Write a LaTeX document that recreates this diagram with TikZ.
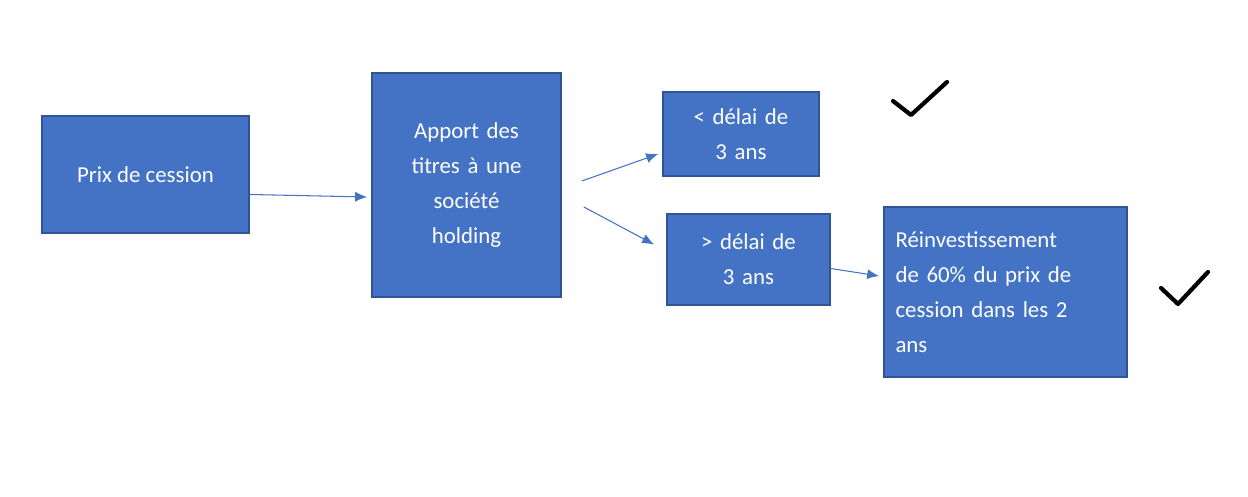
\documentclass[tikz,border=0pt]{standalone}
\usepackage{fontspec}
\setmainfont{Carlito}
\usetikzlibrary{arrows.meta, positioning}
\definecolor{boxblue}{HTML}{4472C4}
\definecolor{boxline}{HTML}{2F5597}
\tikzset{%
	stepbox/.style={
		draw=boxline, fill=boxblue, line width=1pt,
		text=white, align=center, inner sep=0pt,
		font=\fontsize{13}{20}\selectfont
	},
	link/.style={-{Latex[length=2.4mm,width=2mm]}, draw=boxblue, line width=0.6pt},
	tick/.style={line width=2.4pt, line cap=round, line join=round}
}
\begin{document}
\begin{tikzpicture}[x=0.02cm,y=-0.02cm]
	\useasboundingbox (0,0) rectangle (1248,497);
	
	\node[stepbox, minimum width=4.14cm, minimum height=2.34cm](prix) at (145.5,174.5){Prix de cession};
	\node[stepbox, minimum width=3.78cm, minimum height=4.48cm, text width=3.4cm](apport) at (466.5,185){Apport des\\titres à une\\société\\holding\\[0.9cm]};
	\node[stepbox, minimum width=3.12cm, minimum height=1.68cm, text width=2.9cm](court) at (741,134){< délai de\\3 ans};
	\node[stepbox, minimum width=3.26cm, minimum height=1.82cm, text width=3cm](long) at (748.5,259.5){> délai de\\3 ans};
	\node[stepbox, minimum width=4.86cm, minimum height=3.4cm, text width=4.4cm, align=left](reinv) at (1005.5,292){Réinvestissement\\de 60\% du prix de\\cession dans les 2\\ans};
	
	\draw[link] ([yshift=-0.4cm]prix.east) -- ([yshift=-0.24cm,xshift=-0.08cm]apport.west);
	\draw[link] ([xshift=0.4cm,yshift=0.08cm]apport.east) -- ([xshift=-0.08cm,yshift=-0.4cm]court.west);
	\draw[link] ([xshift=0.44cm,yshift=-0.44cm]apport.east) -- ([xshift=-0.24cm,yshift=0.3cm]long.west);
	\draw[link] ([yshift=-0.18cm]long.east) -- ([xshift=-0.08cm,yshift=0.32cm]reinv.west);
	
	\draw[tick] (893,101) -- (911,115) -- (947,82);
	\draw[tick] (1161,288) -- (1178,304) -- (1208,272);
\end{tikzpicture}
\end{document}
